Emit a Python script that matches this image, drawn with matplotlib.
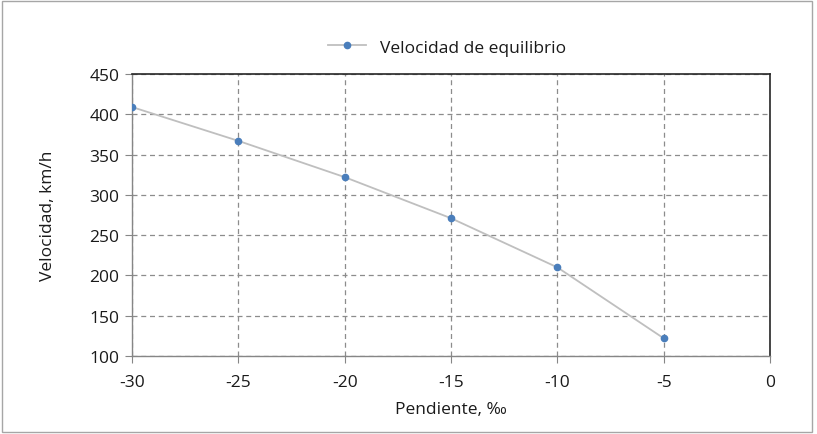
import matplotlib
matplotlib.use("Agg")
import matplotlib.pyplot as plt
from matplotlib.patches import Rectangle

pendiente = [-30, -25, -20, -15, -10, -5]
velocidad = [409, 367, 322, 271, 210, 122]
x_ticks = [-30, -25, -20, -15, -10, -5, 0]
y_ticks = [100, 150, 200, 250, 300, 350, 400, 450]

plt.rcParams['font.family'] = ['Open Sans', 'DejaVu Sans']
plt.rcParams['axes.unicode_minus'] = False

fig = plt.figure(figsize=(8.17, 4.35), dpi=100)
fig.patches.append(Rectangle((0.002, 0.005), 0.992, 0.99, transform=fig.transFigure,
                             fill=False, edgecolor='#a6a6a6', linewidth=1.0))
ax = fig.add_axes([0.1616, 0.1793, 0.7809, 0.6483])

ax.plot(pendiente, velocidad, color='#bfbfbf', linewidth=1.3, marker='o',
        markersize=4.5, markerfacecolor='#4a7ebb', markeredgecolor='#4a7ebb',
        label='Velocidad de equilibrio', zorder=3)

ax.set_xlim(-30, 0)
ax.set_ylim(100, 450)
ax.set_xticks(x_ticks)
ax.set_yticks(y_ticks)
ax.grid(True, linestyle=(0, (4, 3)), color='#8c8c8c', linewidth=0.9)
ax.set_axisbelow(True)

for s in ['top', 'right']:
    ax.spines[s].set_color('#262626')
    ax.spines[s].set_linewidth(1.2)
for s in ['left', 'bottom']:
    ax.spines[s].set_color('#868686')
    ax.spines[s].set_linewidth(1.0)

ax.tick_params(axis='both', direction='out', length=5, color='#868686',
               labelsize=12.5, labelcolor='#1a1a1a')
ax.tick_params(axis='x', pad=8)
ax.tick_params(axis='y', pad=4)

ax.set_xlabel('Pendiente, ‰', fontsize=12.5, color='#1a1a1a', labelpad=8)
ax.set_ylabel('Velocidad, km/h', fontsize=12.5, color='#1a1a1a', labelpad=24)

ax.legend(loc='lower center', bbox_to_anchor=(0.494, 1.01), frameon=False,
          fontsize=12.5, handlelength=2.2, labelcolor='#1a1a1a')

fig.savefig('out.png', dpi=100)
